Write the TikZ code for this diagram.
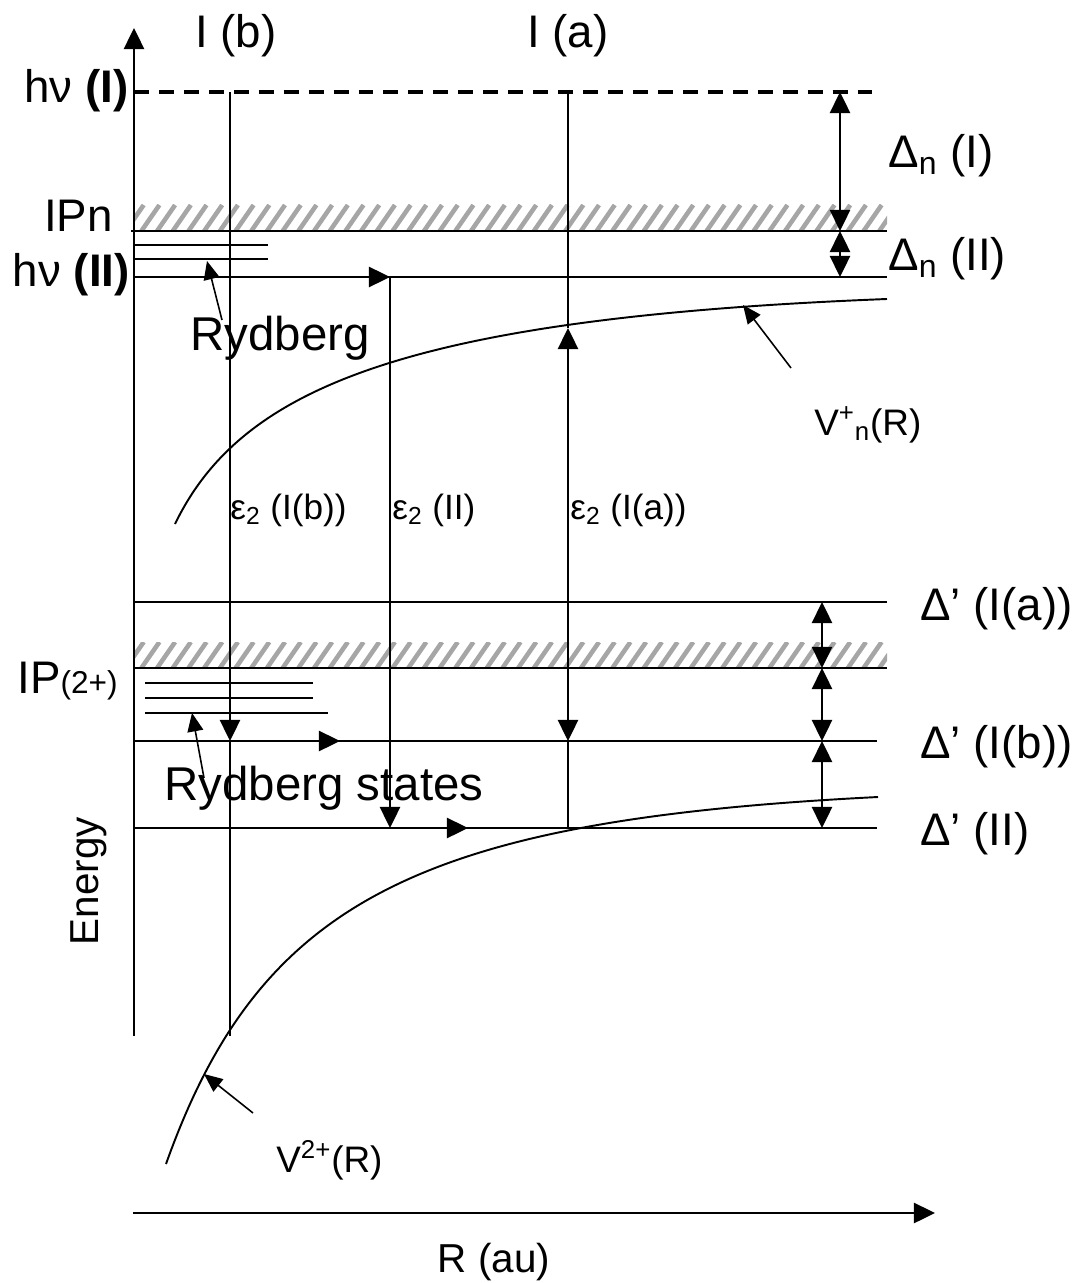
\documentclass[tikz,border=0pt]{standalone}
\usepackage{fontspec}
\setmainfont{Liberation Sans}
\usetikzlibrary{arrows.meta, positioning}
\tikzset{
    lvl/.style = {line width=1.1pt},
    arrow/.style = {line width=1.1pt, -{Triangle[length=12pt, width=11.5pt]}},
    darrow/.style = {line width=1.1pt, {Triangle[length=12pt, width=11.5pt]}-{Triangle[length=12pt, width=11.5pt]}},
    pointer/.style = {line width=0.9pt, -{Triangle[length=10.5pt, width=9pt]}},
    hatch/.style = {gray!70, line width=2.6pt},
    biglabel/.style = {font=\fontsize{26}{30}\selectfont, inner sep=0pt},
    rydlabel/.style = {font=\fontsize{27}{31}\selectfont, inner sep=0pt},
    axislabel/.style = {font=\fontsize{23}{27}\selectfont, inner sep=0pt},
    midlabel/.style = {font=\fontsize{20}{24}\selectfont, inner sep=0pt},
    curvelabel/.style = {font=\fontsize{21}{25}\selectfont, inner sep=0pt}
}

\begin{document}
\begin{tikzpicture}[x=0.02cm, y=-0.02cm]
    \useasboundingbox (0,0) rectangle (1082,1283);

    % Hatched bands (continua)
    \begin{scope}
        \clip (134,205) rectangle (887,231);
        \foreach \x in {110,125.7,...,900} \draw[hatch] (\x,231) -- ++(18,-26);
    \end{scope}
    \begin{scope}
        \clip (134,642) rectangle (887,668);
        \foreach \x in {110,125.7,...,900} \draw[hatch] (\x,668) -- ++(18,-26);
    \end{scope}

    % Coordinates
    \coordinate (o) at (134,1036);
    \coordinate (etop) at (134,28);
    \coordinate (rorig) at (133,1213);
    \coordinate (rend) at (935,1213);
    \coordinate (hIl) at (134,92);
    \coordinate (hIr) at (878,92);
    \coordinate (ipnl) at (131,231);
    \coordinate (ipnr) at (887,231);
    \coordinate (hIIl) at (134,277);
    \coordinate (hIIr) at (887,277);
    \coordinate (dIal) at (134,602);
    \coordinate (dIar) at (887,602);
    \coordinate (ip2l) at (134,668);
    \coordinate (ip2r) at (887,668);
    \coordinate (dIbl) at (134,741);
    \coordinate (dIbr) at (877,741);
    \coordinate (dIIl) at (134,828);
    \coordinate (dIIr) at (877,828);

    % Axes
    \draw[arrow] (o) -- (etop);
    \draw[arrow] (rorig) -- (rend);

    % Levels
    \draw[line width=1.9pt, dash pattern=on 8.5pt off 5.7pt] (hIl) -- (hIr);
    \draw[lvl] (ipnl) -- (ipnr);
    \draw[lvl] (hIIl) -- (hIIr);
    \draw[lvl] (dIal) -- (dIar);
    \draw[lvl] (ip2l) -- (ip2r);
    \draw[lvl] (dIbl) -- (dIbr);
    \draw[lvl] (dIIl) -- (dIIr);

    % Rydberg series
    \foreach \y in {245,259} \draw[lvl] (134,\y) -- (268,\y);
    \foreach \y/\xe in {683/313,698/313,713/328} \draw[lvl] (145,\y) -- (\xe,\y);

    % Potential curves
    \draw[lvl] (175,524) .. controls (240,390) and (400,318) .. (887,299);
    \draw[lvl] (166,1164) .. controls (260,900) and (420,820) .. (878,797);

    % Transitions
    \coordinate (bt) at (230,92);
    \coordinate (bm) at (230,741);
    \coordinate (bb) at (230,1036);
    \draw[arrow] (bt) -- (bm);
    \draw[lvl] (bm) -- (bb);
    \draw[arrow] (bm) -- (340,741);

    \coordinate (iit) at (390,277);
    \coordinate (iib) at (390,828);
    \draw[arrow] (150,277) -- (iit);
    \draw[arrow] (iit) -- (iib);
    \draw[arrow] (iib) -- (468,828);

    \coordinate (at) at (568,92);
    \coordinate (au) at (568,328);
    \coordinate (am) at (568,741);
    \coordinate (ab) at (568,828);
    \draw[lvl] (at) -- (au);
    \draw[darrow] (am) -- (au);
    \draw[lvl] (am) -- (ab);

    % Gaps
    \draw[darrow] (840,92) -- (840,231);
    \draw[darrow] (840,231) -- (840,277);
    \draw[darrow] (822,602) -- (822,668);
    \draw[darrow] (822,668) -- (822,741);
    \draw[darrow] (822,741) -- (822,828);

    % Labels
    \node[biglabel, anchor=base] (lIb) at (236,48) {I (b)};
    \node[biglabel, anchor=base] (lIa) at (568,48) {I (a)};
    \node[biglabel, anchor=base east] (lhI) at (129,103) {hν \textbf{(I)}};
    \node[biglabel, anchor=base east] (lIPn) at (113,232) {IPn};
    \node[biglabel, anchor=base east] (lhII) at (130,287) {hν \textbf{(II)}};
    \node[biglabel, anchor=base east] (lIP2) at (118,693) {IP\fontsize{18}{20}\selectfont(2+)};
    \node[rydlabel, anchor=base west] (lRyd) at (190,351) {Rydberg};
    \node[rydlabel, anchor=base west] (lRyds) at (164,800) {Rydberg states};
    \node[biglabel, anchor=base west] (ldnI) at (888,168) {Δ\textsubscript{n} (I)};
    \node[biglabel, anchor=base west] (ldnII) at (888,271) {Δ\textsubscript{n} (II)};
    \node[biglabel, anchor=base west] (ldIa) at (920,620) {Δ’ (I(a))};
    \node[biglabel, anchor=base west] (ldIb) at (920,758) {Δ’ (I(b))};
    \node[biglabel, anchor=base west] (ldII) at (920,845) {Δ’ (II)};
    \node[midlabel, anchor=base west] (leb) at (230,519) {ε\textsubscript{2} (I(b))};
    \node[midlabel, anchor=base west] (leII) at (392,519) {ε\textsubscript{2} (II)};
    \node[midlabel, anchor=base west] (lea) at (570,519) {ε\textsubscript{2} (I(a))};
    \node[curvelabel, anchor=base west] (lVn) at (814,435) {V\textsuperscript{+}\textsubscript{n}(R)};
    \node[curvelabel, anchor=base west] (lV2) at (276,1172) {V\textsuperscript{2+}(R)};
    \node[axislabel, anchor=base] (lR) at (494,1272) {R (au)};
    \node[axislabel, anchor=base, rotate=90] (lE) at (98,881) {Energy};

    % Pointers
    \draw[pointer] (222,320) -- (207,261);
    \draw[pointer] (204,778) -- (192,713);
    \draw[pointer] (791,368) -- (743,305);
    \draw[pointer] (253,1113) -- (204,1074);
\end{tikzpicture}
\end{document}
